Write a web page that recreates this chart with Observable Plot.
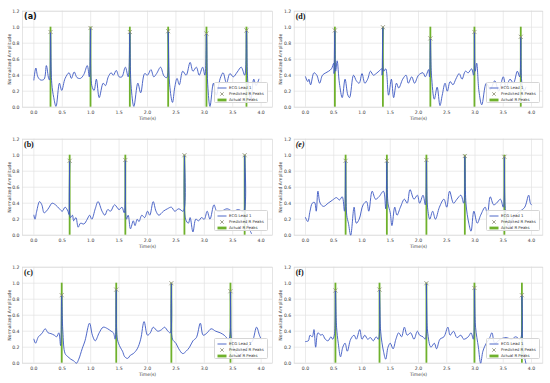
<!DOCTYPE html>
<html>
<head>
<meta charset="utf-8">
<script src="https://cdn.jsdelivr.net/npm/d3@7"></script>
<script src="https://cdn.jsdelivr.net/npm/@observablehq/plot@0.6"></script>
<style>
  html, body { margin: 0; padding: 0; background: #fff; }
  #root { position: relative; width: 550px; height: 383px; overflow: hidden; background: #fff; }
  .panel { position: absolute; width: 275px; height: 128px; }
  .legend { position: absolute; left: 214px; top: 82px; width: 54px; height: 21px;
    background: rgba(255,255,255,0.85); border: 0.6px solid #d6d6d6; border-radius: 1.5px;
    font-family: "DejaVu Sans", sans-serif; font-size: 3.9px; color: #333; box-sizing: border-box; padding: 1.5px 1px 0 2px; }
  .legend .row { display: flex; align-items: center; height: 6.2px; white-space: nowrap; }
  .legend svg { width: 10px; height: 6px; margin-right: 2px; flex: none; }
</style>
</head>
<body>
<div id="root"></div>
<script>
// ---------- data ----------
const xTicks = [0, 0.5, 1, 1.5, 2, 2.5, 3, 3.5, 4];
const yTicks = [0, 0.2, 0.4, 0.6, 0.8, 1.0, 1.2];
const actualPeakHeight = 1.0;
const legendLabels = ["ECG Lead 1", "Predicted R Peaks", "Actual R Peaks"];
const panelLabels = ["(a)", "(d)", "(b)", "(e)", "(c)", "(f)"];

const ecgA = [[0.00,0.34],[0.035,0.49],[0.07,0.38],[0.12,0.34],[0.18,0.35],[0.22,0.52],[0.26,0.36],[0.275,0.34],[0.293,0.94],[0.315,0.30],[0.35,0.12],[0.39,0.01],[0.45,0.30],[0.49,0.21],[0.55,0.36],[0.62,0.43],[0.66,0.36],[0.71,0.44],[0.76,0.37],[0.82,0.36],[0.88,0.41],[0.94,0.52],[0.975,0.38],[0.997,0.99],[1.02,0.27],[1.06,0.21],[1.10,0.35],[1.15,0.12],[1.22,0.30],[1.26,0.27],[1.31,0.38],[1.36,0.43],[1.40,0.40],[1.45,0.46],[1.50,0.38],[1.55,0.38],[1.61,0.50],[1.66,0.38],[1.689,0.94],[1.71,0.28],[1.76,0.01],[1.83,0.30],[1.88,0.18],[1.95,0.42],[2.00,0.40],[2.06,0.47],[2.11,0.38],[2.16,0.42],[2.23,0.50],[2.29,0.39],[2.34,0.37],[2.364,0.95],[2.39,0.28],[2.44,0.06],[2.48,0.25],[2.52,0.36],[2.56,0.28],[2.62,0.45],[2.68,0.40],[2.75,0.56],[2.80,0.45],[2.86,0.50],[2.91,0.40],[2.97,0.50],[3.01,0.40],[3.038,0.92],[3.06,0.28],[3.10,0.01],[3.16,0.30],[3.21,0.15],[3.28,0.36],[3.33,0.43],[3.39,0.30],[3.45,0.42],[3.51,0.38],[3.58,0.44],[3.65,0.50],[3.71,0.40],[3.742,0.96],[3.77,0.28],[3.82,0.10],[3.87,0.35],[3.91,0.27],[3.96,0.35]];
const peaksA = [0.293, 0.997, 1.689, 2.364, 3.038, 3.742];
const predA = [0.94, 0.99, 0.94, 0.95, 0.92, 0.96];

const ecgD = [[0.00,0.38],[0.04,0.32],[0.06,0.35],[0.09,0.28],[0.15,0.43],[0.20,0.40],[0.25,0.30],[0.30,0.40],[0.36,0.43],[0.41,0.45],[0.46,0.48],[0.50,0.55],[0.505,0.42],[0.52,0.96],[0.535,0.45],[0.56,0.58],[0.60,0.30],[0.65,0.12],[0.70,0.35],[0.75,0.15],[0.78,0.12],[0.85,0.40],[0.90,0.33],[0.95,0.30],[1.00,0.42],[1.05,0.30],[1.10,0.35],[1.15,0.45],[1.20,0.40],[1.25,0.42],[1.30,0.45],[1.35,0.48],[1.355,0.40],[1.37,1.00],[1.385,0.45],[1.42,0.48],[1.47,0.15],[1.52,0.35],[1.56,0.12],[1.61,0.30],[1.65,0.24],[1.72,0.35],[1.78,0.40],[1.82,0.30],[1.88,0.38],[1.93,0.30],[2.00,0.40],[2.08,0.43],[2.12,0.38],[2.18,0.47],[2.195,0.38],[2.21,0.86],[2.23,0.40],[2.28,0.10],[2.33,0.25],[2.38,0.02],[2.42,0.15],[2.47,0.30],[2.51,0.20],[2.56,0.32],[2.61,0.28],[2.66,0.35],[2.72,0.42],[2.77,0.35],[2.83,0.45],[2.88,0.43],[2.94,0.48],[2.975,0.40],[2.99,0.94],[3.005,0.45],[3.03,0.55],[3.07,0.20],[3.12,0.03],[3.20,0.30],[3.27,0.22],[3.35,0.33],[3.42,0.20],[3.50,0.38],[3.55,0.25],[3.62,0.35],[3.68,0.30],[3.75,0.45],[3.79,0.38],[3.81,0.88],[3.83,0.30],[3.87,0.20],[3.90,0.25]];
const peaksD = [0.52, 1.37, 2.21, 2.99, 3.81];
const predD = [0.96, 1.0, 0.86, 0.94, 0.88];

const ecgB = [[0.00,0.25],[0.02,0.20],[0.05,0.30],[0.10,0.42],[0.14,0.38],[0.18,0.28],[0.22,0.30],[0.27,0.35],[0.32,0.40],[0.38,0.38],[0.45,0.33],[0.50,0.30],[0.55,0.35],[0.60,0.30],[0.615,0.26],[0.63,0.93],[0.645,0.22],[0.68,0.25],[0.70,0.18],[0.74,0.22],[0.78,0.10],[0.82,0.15],[0.88,0.14],[0.94,0.20],[0.98,0.25],[1.02,0.20],[1.08,0.33],[1.13,0.42],[1.20,0.30],[1.25,0.25],[1.30,0.32],[1.35,0.30],[1.42,0.38],[1.50,0.32],[1.55,0.35],[1.59,0.28],[1.61,0.94],[1.63,0.20],[1.66,0.25],[1.70,0.08],[1.75,0.18],[1.78,0.12],[1.82,0.20],[1.85,0.17],[1.90,0.25],[1.95,0.22],[2.00,0.30],[2.04,0.25],[2.10,0.42],[2.15,0.30],[2.20,0.25],[2.28,0.30],[2.35,0.33],[2.42,0.35],[2.48,0.30],[2.55,0.33],[2.63,0.30],[2.65,1.00],[2.67,0.20],[2.72,0.15],[2.75,0.22],[2.80,0.04],[2.85,0.20],[2.90,0.18],[2.95,0.22],[3.00,0.20],[3.05,0.30],[3.10,0.20],[3.17,0.38],[3.22,0.30],[3.30,0.30],[3.40,0.33],[3.50,0.30],[3.60,0.32],[3.69,0.30],[3.71,1.00],[3.73,0.20],[3.78,0.10],[3.83,0.02]];
const peaksB = [0.63, 1.61, 2.65, 3.71];
const predB = [0.93, 0.94, 1.0, 1.0];

const ecgE = [[0.00,0.22],[0.04,0.17],[0.08,0.30],[0.12,0.40],[0.16,0.41],[0.19,0.30],[0.22,0.55],[0.26,0.40],[0.32,0.36],[0.40,0.40],[0.48,0.44],[0.55,0.47],[0.60,0.44],[0.65,0.48],[0.69,0.30],[0.71,0.93],[0.73,0.25],[0.76,0.15],[0.80,0.00],[0.86,0.35],[0.90,0.15],[0.95,0.20],[1.02,0.38],[1.08,0.42],[1.12,0.30],[1.18,0.55],[1.24,0.45],[1.30,0.48],[1.38,0.55],[1.42,0.33],[1.44,0.93],[1.46,0.40],[1.50,0.28],[1.53,0.12],[1.58,0.35],[1.62,0.25],[1.68,0.35],[1.75,0.45],[1.80,0.40],[1.85,0.57],[1.92,0.45],[1.98,0.50],[2.02,0.40],[2.08,0.50],[2.12,0.38],[2.14,0.94],[2.16,0.35],[2.20,0.20],[2.25,0.30],[2.30,0.20],[2.37,0.35],[2.45,0.45],[2.50,0.35],[2.55,0.55],[2.62,0.40],[2.68,0.45],[2.75,0.50],[2.80,0.40],[2.82,0.99],[2.84,0.40],[2.89,0.15],[2.93,0.05],[2.98,0.30],[3.04,0.15],[3.10,0.25],[3.18,0.35],[3.22,0.25],[3.27,0.48],[3.33,0.38],[3.38,0.40],[3.45,0.45],[3.50,0.35],[3.52,0.98],[3.54,0.30],[3.60,0.10],[3.66,0.20],[3.72,0.25],[3.80,0.30],[3.88,0.35],[3.95,0.50],[3.98,0.40],[4.00,0.38]];
const peaksE = [0.71, 1.44, 2.14, 2.82, 3.52];
const predE = [0.93, 0.93, 0.94, 0.99, 0.98];

const ecgC = [[0.00,0.30],[0.03,0.25],[0.08,0.33],[0.14,0.37],[0.20,0.43],[0.25,0.38],[0.30,0.37],[0.36,0.35],[0.40,0.33],[0.44,0.38],[0.47,0.22],[0.49,0.85],[0.51,0.40],[0.55,0.12],[0.60,0.08],[0.65,0.05],[0.70,0.03],[0.75,0.00],[0.79,0.05],[0.85,0.18],[0.90,0.28],[0.98,0.50],[1.03,0.35],[1.08,0.28],[1.15,0.38],[1.22,0.45],[1.30,0.43],[1.36,0.40],[1.40,0.38],[1.43,0.30],[1.45,0.92],[1.47,0.30],[1.52,0.20],[1.56,0.15],[1.60,0.08],[1.65,0.06],[1.70,0.10],[1.75,0.12],[1.82,0.18],[1.88,0.30],[1.94,0.52],[2.00,0.35],[2.05,0.38],[2.10,0.45],[2.18,0.40],[2.25,0.42],[2.30,0.45],[2.36,0.40],[2.40,0.38],[2.42,1.00],[2.44,0.30],[2.50,0.25],[2.55,0.18],[2.62,0.12],[2.68,0.15],[2.74,0.20],[2.80,0.28],[2.86,0.32],[2.93,0.50],[2.98,0.35],[3.05,0.38],[3.12,0.43],[3.20,0.40],[3.28,0.38],[3.35,0.35],[3.43,0.30],[3.46,0.90],[3.48,0.30],[3.54,0.15],[3.62,0.10],[3.70,0.15],[3.78,0.22],[3.85,0.28],[3.92,0.45],[3.97,0.35],[4.00,0.30]];
const peaksC = [0.49, 1.45, 2.42, 3.46];
const predC = [0.85, 0.92, 1.0, 0.90];

const ecgF = [[0.00,0.27],[0.05,0.28],[0.08,0.35],[0.12,0.33],[0.15,0.42],[0.18,0.20],[0.22,0.38],[0.27,0.35],[0.30,0.36],[0.35,0.30],[0.40,0.28],[0.45,0.33],[0.48,0.30],[0.51,0.35],[0.53,0.91],[0.55,0.45],[0.58,0.25],[0.62,0.08],[0.66,0.20],[0.70,0.25],[0.74,0.15],[0.80,0.30],[0.86,0.35],[0.90,0.30],[0.96,0.42],[1.00,0.30],[1.05,0.35],[1.10,0.30],[1.15,0.32],[1.20,0.28],[1.25,0.33],[1.29,0.30],[1.31,0.92],[1.33,0.40],[1.38,0.15],[1.42,0.05],[1.46,0.20],[1.50,0.25],[1.55,0.18],[1.60,0.30],[1.65,0.38],[1.70,0.33],[1.75,0.45],[1.80,0.35],[1.86,0.38],[1.92,0.30],[1.98,0.40],[2.02,0.35],[2.08,0.33],[2.12,0.30],[2.14,1.00],[2.16,0.40],[2.22,0.20],[2.28,0.25],[2.32,0.18],[2.38,0.30],[2.45,0.33],[2.52,0.45],[2.56,0.35],[2.62,0.40],[2.68,0.32],[2.75,0.35],[2.80,0.30],[2.88,0.33],[2.93,0.38],[2.97,0.30],[2.99,0.94],[3.01,0.45],[3.06,0.20],[3.10,0.00],[3.14,0.15],[3.20,0.25],[3.25,0.30],[3.30,0.38],[3.35,0.25],[3.45,0.30],[3.55,0.32],[3.65,0.30],[3.72,0.33],[3.80,0.30],[3.83,0.85],[3.85,0.20],[3.90,0.00]];
const peaksF = [0.53, 1.31, 2.14, 2.99, 3.83];
const predF = [0.91, 0.92, 1.0, 0.94, 0.85];

// ---------- styling ----------
const BLUE = "#3b57c2", GREEN = "#6fb12c", XCOL = "#8c8c72";
const FONT = "'DejaVu Sans', sans-serif";

const panels = [
  {ecg: ecgA, peaks: peaksA, pred: predA, label: panelLabels[0], left: 0,   top: 0,   mL: 22,   mR: 3,   lf: "'DejaVu Sans', sans-serif", italic: false},
  {ecg: ecgD, peaks: peaksD, pred: predD, label: panelLabels[1], left: 272, top: 0,   mL: 21.7, mR: 4.7, lf: "'Liberation Serif', serif", italic: false},
  {ecg: ecgB, peaks: peaksB, pred: predB, label: panelLabels[2], left: 0,   top: 128, mL: 22,   mR: 3,   lf: "'Liberation Serif', serif", italic: false},
  {ecg: ecgE, peaks: peaksE, pred: predE, label: panelLabels[3], left: 272, top: 128, mL: 21.7, mR: 4.7, lf: "'Liberation Serif', serif", italic: true},
  {ecg: ecgC, peaks: peaksC, pred: predC, label: panelLabels[4], left: 0,   top: 256, mL: 22,   mR: 3,   lf: "'Liberation Serif', serif", italic: false},
  {ecg: ecgF, peaks: peaksF, pred: predF, label: panelLabels[5], left: 272, top: 256, mL: 21.7, mR: 4.7, lf: "'Liberation Serif', serif", italic: false}
];

const root = document.getElementById("root");

for (const p of panels) {
  const line = p.ecg.map(([t, v]) => ({t, v}));
  const pk = p.peaks.map((t, i) => ({t, v: p.pred[i], h: actualPeakHeight}));
  const chart = Plot.plot({
    width: 275, height: 128,
    marginLeft: p.mL, marginRight: p.mR, marginTop: 10.7, marginBottom: 21.3,
    style: {fontFamily: FONT, fontSize: "4.6px", color: "#3a3a3a", background: "transparent", overflow: "visible"},
    x: {domain: [-0.2, 4.2]},
    y: {domain: [0, 1.2]},
    marks: [
      Plot.gridX(xTicks, {stroke: "#e2e2e2", strokeOpacity: 1, strokeWidth: 0.7}),
      Plot.gridY(yTicks, {stroke: "#e2e2e2", strokeOpacity: 1, strokeWidth: 0.7}),
      Plot.frame({stroke: "#d9d9d9", strokeWidth: 0.7}),
      Plot.ruleX(pk, {x: "t", y1: 0, y2: "h", stroke: GREEN, strokeWidth: 1.8}),
      Plot.line(line, {x: "t", y: "v", stroke: BLUE, strokeWidth: 0.9, curve: "catmull-rom"}),
      Plot.dot(pk, {x: "t", y: "v", symbol: "times", r: 2.0, stroke: XCOL, strokeWidth: 0.8}),
      Plot.axisX(xTicks, {tickSize: 0, tickPadding: 3.5, tickFormat: d3.format(".1f"),
        label: "Time(s)", labelAnchor: "center", labelArrow: "none", labelOffset: 13}),
      Plot.axisY(yTicks, {tickSize: 0, tickPadding: 3, tickFormat: d3.format(".1f"),
        label: "Normalized Amplitude", labelAnchor: "center", labelArrow: "none", labelOffset: 15}),
      Plot.text([p.label], {frameAnchor: "top-left", dx: 1.5, dy: 2.5, text: d => d,
        fontFamily: p.lf, fontWeight: "bold", fontStyle: p.italic ? "italic" : "normal", fontSize: 8, fill: "#111"})
    ]
  });
  const div = document.createElement("div");
  div.className = "panel";
  div.style.left = p.left + "px";
  div.style.top = p.top + "px";
  div.appendChild(chart);

  const lg = document.createElement("div");
  lg.className = "legend";
  lg.innerHTML =
    `<div class="row"><svg viewBox="0 0 10 6"><line x1="0.5" y1="3" x2="9.5" y2="3" stroke="${BLUE}" stroke-width="0.9"/></svg><span>${legendLabels[0]}</span></div>` +
    `<div class="row"><svg viewBox="0 0 10 6"><path d="M3.3 1.3 L6.7 4.7 M6.7 1.3 L3.3 4.7" stroke="${XCOL}" stroke-width="0.8"/></svg><span>${legendLabels[1]}</span></div>` +
    `<div class="row"><svg viewBox="0 0 10 6"><rect x="0.5" y="1.6" width="9" height="2.8" fill="${GREEN}"/></svg><span>${legendLabels[2]}</span></div>`;
  div.appendChild(lg);
  root.appendChild(div);
}
</script>
</body>
</html>
